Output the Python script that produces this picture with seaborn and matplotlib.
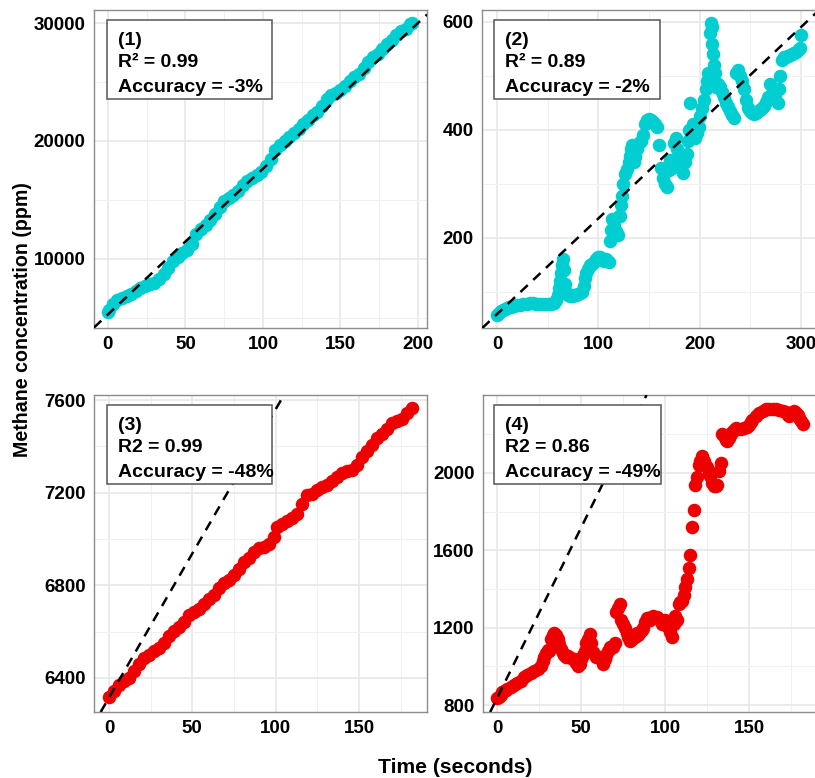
import matplotlib
matplotlib.use("Agg")
import matplotlib.pyplot as plt
from matplotlib.patches import Rectangle
import seaborn as sns

# ---- data ----
# panel 1 (cyan, steady rise)
t1 = [0, 1, 3, 6, 9, 12, 15, 18, 21, 24, 27, 30, 33, 36, 39, 42, 45, 48, 51, 54,
      57, 60, 63, 66, 69, 72, 75, 78, 81, 84, 87, 90, 93, 96, 99, 102, 105, 108,
      111, 114, 117, 120, 123, 126, 129, 132, 135, 138, 141, 144, 147, 150, 153,
      156, 159, 162, 165, 168, 171, 174, 177, 180, 183, 186, 189, 192, 195, 196]
c1 = [5500, 5700, 6200, 6500, 6700, 6900, 7050, 7250, 7500, 7700, 7850, 8000, 8300,
      8700, 9200, 9800, 10200, 10500, 10800, 11300, 12100, 12500, 12900, 13300,
      13800, 14400, 14900, 15200, 15400, 15800, 16300, 16600, 16900, 17100, 17400,
      17900, 18500, 19200, 19700, 20000, 20300, 20700, 21000, 21400, 21800, 22200,
      22500, 23000, 23600, 23900, 24100, 24300, 24700, 25100, 25400, 25700, 26200,
      26700, 27100, 27400, 27800, 28200, 28600, 29000, 29300, 29500, 29900, 30000]

# panel 2 (cyan, noisy)
t2 = [0, 2, 4, 6, 8, 10, 12, 14, 17, 20, 23, 26, 29, 32, 35, 38, 41, 44, 47, 50,
      53, 56, 58, 60, 61, 62, 63, 64, 65, 66, 67, 68, 70, 72, 74, 76, 78, 80, 82,
      84, 86, 87, 88, 90, 92, 94, 96, 98, 100, 102, 104, 106, 108, 110, 111, 112,
      113, 115, 117, 119, 120, 121, 122, 123, 124, 126, 128, 130, 131, 132, 133,
      134, 135, 136, 138, 140, 142, 144, 146, 148, 150, 152, 154, 156, 158, 160,
      162, 164, 166, 168, 170, 171, 173, 175, 177, 178, 180, 182, 184, 186, 188,
      189, 190, 191, 193, 195, 197, 199, 200, 202, 204, 206, 207, 208, 210, 211,
      212, 212.5, 213, 214, 215, 216, 218, 220, 222, 224, 226, 228, 230, 232, 234,
      236, 238, 240, 242, 244, 246, 248, 250, 252, 254, 256, 258, 260, 262, 264,
      266, 268, 270, 271, 273, 275, 277, 278, 279, 281, 283, 285, 287, 289, 291,
      293, 295, 297, 299, 300]
c2 = [58, 61, 64, 66, 68, 70, 71, 72, 73, 75, 76, 77, 78, 79, 79, 78, 78, 77, 77, 78,
      78, 80, 85, 95, 108, 120, 135, 150, 160, 140, 115, 100, 94, 92, 93, 94, 95, 96,
      97, 100, 110, 125, 135, 143, 150, 152, 155, 160, 165, 165, 160, 158, 160, 155,
      195, 215, 235, 225, 212, 205, 240, 240, 260, 278, 300, 318, 328, 340, 352, 365,
      372, 360, 340, 350, 365, 375, 380, 390, 410, 418, 420, 418, 415, 410, 405, 372,
      330, 310, 300, 295, 325, 345, 330, 375, 385, 365, 350, 330, 320, 340, 355,
      380, 400, 450, 410, 385, 395, 405, 425, 440, 456, 475, 490, 505, 580, 598,
      590, 560, 540, 520, 505, 480, 485, 480, 470, 460, 450, 443, 435, 428, 422,
      505, 510, 500, 490, 475, 455, 440, 435, 432, 430, 432, 435, 437, 440, 445,
      452, 460, 485, 465, 468, 460, 450, 475, 500, 530, 535, 535, 537, 538, 540,
      542, 545, 548, 552, 575]

# panel 3 (red, steady rise)
t3 = [0, 3, 6, 9, 12, 15, 18, 21, 24, 27, 30, 33, 36, 39, 42, 45, 48, 51, 54, 57,
      60, 63, 66, 69, 72, 75, 78, 81, 84, 87, 90, 93, 96, 99, 101, 104, 107, 110,
      113, 116, 119, 122, 125, 128, 131, 134, 137, 140, 143, 146, 149, 152, 155,
      158, 161, 164, 167, 170, 173, 176, 179, 182]
c3 = [6320, 6345, 6370, 6385, 6400, 6430, 6460, 6485, 6500, 6515, 6530, 6550, 6580,
      6605, 6620, 6640, 6670, 6685, 6700, 6720, 6740, 6760, 6790, 6810, 6825, 6845,
      6870, 6900, 6920, 6945, 6960, 6965, 6980, 7010, 7050, 7065, 7080, 7090, 7110,
      7150, 7190, 7195, 7210, 7225, 7235, 7250, 7270, 7285, 7295, 7300, 7320, 7355,
      7380, 7405, 7435, 7455, 7475, 7500, 7510, 7520, 7545, 7565]

# panel 4 (red, jump after ~110 s)
t4 = [0, 1, 2, 3, 4, 5, 6, 8, 10, 12, 14, 16, 18, 20, 22, 24, 26, 27, 28, 29, 30,
      31, 32, 33, 34, 35, 36, 37, 38, 39, 40, 41, 42, 44, 46, 47, 48, 49, 50, 51,
      52, 53, 54, 55, 56, 57, 58, 59, 61, 62, 63, 64, 65, 66, 67, 68, 69, 70, 71,
      72, 73, 74, 75, 76, 77, 78, 79, 80, 81, 82, 83, 84, 85, 86, 87, 88, 89, 90,
      91, 93, 95, 97, 98, 99, 100, 101, 102, 103, 104, 105, 106, 107, 108, 109,
      110, 111, 112, 113, 114, 115, 116, 117, 118, 119, 120, 121, 122, 123, 124,
      125, 126, 127, 128, 129, 130, 131, 132, 133, 134, 135, 136, 137, 138, 139,
      140, 141, 142, 143, 145, 147, 149, 150, 151, 152, 154, 156, 158, 160, 162,
      164, 166, 168, 170, 172, 173, 174, 175, 176, 177, 178, 179, 180, 181, 182]
c4 = [835, 840, 850, 865, 875, 880, 885, 895, 905, 915, 925, 945, 955, 965, 978, 985,
      1000, 1030, 1050, 1070, 1085, 1080, 1140, 1160, 1170, 1160, 1140, 1115, 1090,
      1070, 1060, 1050, 1055, 1045, 1040, 1020, 1000, 1010, 1040, 1060, 1080, 1120,
      1140, 1165, 1120, 1075, 1060, 1050, 1050, 1040, 1010, 1040, 1060, 1080, 1100,
      1095, 1100, 1120, 1280, 1300, 1320, 1240, 1220, 1200, 1170, 1150, 1130, 1140,
      1160, 1150, 1170, 1160, 1180, 1190, 1200, 1230, 1250, 1250, 1240, 1260, 1255,
      1240, 1220, 1230, 1240, 1210, 1200, 1180, 1150, 1220, 1260, 1240, 1320, 1335,
      1340, 1370, 1410, 1450, 1510, 1575, 1720, 1810, 1940, 1980, 2040, 2060, 2090,
      2060, 2040, 2030, 2000, 1985, 1950, 1930, 1930, 1940, 2010, 2050, 2200, 2190,
      2170, 2165, 2180, 2200, 2210, 2220, 2230, 2225, 2225, 2230, 2235, 2250, 2265,
      2275, 2295, 2310, 2320, 2330, 2333, 2333, 2330, 2325, 2320, 2315, 2300, 2295,
      2305, 2315, 2318, 2310, 2300, 2285, 2270, 2255]

# dashed reference line: intercept / slope per panel
ref_intercept = [5300, 59, 6315, 838]
ref_slope = [123.5, 1.77, 12.45, 17.6]

labels = ["(1)", "(2)", "(3)", "(4)"]
r2_text = ["R\u00b2 = 0.99", "R\u00b2 = 0.89", "R2 = 0.99", "R2 = 0.86"]
acc_text = ["Accuracy = -3%", "Accuracy = -2%", "Accuracy = -48%", "Accuracy = -49%"]

x_ticks = [[0, 50, 100, 150, 200], [0, 100, 200, 300], [0, 50, 100, 150], [0, 50, 100, 150]]
x_minor = [[25, 75, 125, 175], [50, 150, 250], [25, 75, 125, 175], [25, 75, 125, 175]]
y_ticks = [[10000, 20000, 30000], [200, 400, 600], [6400, 6800, 7200, 7600], [800, 1200, 1600, 2000]]
y_minor = [[5000, 15000, 25000], [100, 300, 500], [6600, 7000, 7400], [1000, 1400, 1800, 2200]]
x_lims = [(-9.0, 205.8), (-15, 315), (-9.0, 190.8), (-8.5, 191)]
y_lims = [(4150, 31100), (33, 622), (6253, 7622), (764, 2403)]

cyan = "#00CED1"
red = "#EE0000"

sns.set_style("white")
plt.rcParams["font.family"] = ["Liberation Sans", "DejaVu Sans"]
plt.rcParams["font.weight"] = "bold"
plt.rcParams["text.color"] = "black"

fig = plt.figure(figsize=(8.15, 7.78), dpi=100)

# axes placements (left, bottom, width, height) in figure fraction
rects = [[0.1153, 0.5784, 0.4086, 0.4087],
         [0.5914, 0.5784, 0.4098, 0.4087],
         [0.1153, 0.0848, 0.4086, 0.4075],
         [0.5926, 0.0848, 0.4110, 0.4075]]
box_x0 = [0.039, 0.036, 0.039, 0.033]

series = [(t1, c1, cyan), (t2, c2, cyan), (t3, c3, red), (t4, c4, red)]

for i, (t, c, col) in enumerate(series):
    ax = fig.add_axes(rects[i])
    sns.scatterplot(x=t, y=c, ax=ax, color=col, s=95, linewidth=0, zorder=2)
    ax.axline((0, ref_intercept[i]), slope=ref_slope[i], color="black",
              linestyle=(0, (4, 3)), linewidth=1.8, zorder=3)

    ax.set_xlim(*x_lims[i])
    ax.set_ylim(*y_lims[i])
    ax.set_xticks(x_ticks[i])
    ax.set_xticks(x_minor[i], minor=True)
    ax.set_yticks(y_ticks[i])
    ax.set_yticks(y_minor[i], minor=True)
    ax.grid(which="major", color="#e6e6e6", linewidth=1.1)
    ax.grid(which="minor", color="#f0f0f0", linewidth=0.8)
    ax.set_axisbelow(True)
    ax.tick_params(which="major", length=4, width=1, color="#555555",
                   labelsize=13.5, pad=2, labelcolor="black")
    ax.tick_params(which="minor", length=0)
    for sp in ax.spines.values():
        sp.set_color("#8c8c8c")
        sp.set_linewidth(1.0)
    ax.set_xlabel("")
    ax.set_ylabel("")

    # annotation box
    ax.add_patch(Rectangle((box_x0[i], 0.72), 0.497, 0.25, transform=ax.transAxes,
                           facecolor="white", edgecolor="#555555", linewidth=1.1,
                           zorder=4))
    tx = box_x0[i] + 0.034
    ax.text(tx, 0.905, labels[i], transform=ax.transAxes, fontsize=14,
            va="center", ha="left", zorder=5)
    ax.text(tx, 0.834, r2_text[i], transform=ax.transAxes, fontsize=14,
            va="center", ha="left", zorder=5)
    ax.text(tx, 0.757, acc_text[i], transform=ax.transAxes, fontsize=14,
            va="center", ha="left", zorder=5)

fig.text(0.028, 0.589, "Methane concentration (ppm)", rotation=90, fontsize=14.1,
         ha="center", va="center")
fig.text(0.558, 0.013, "Time (seconds)", fontsize=15.2, ha="center", va="center")

plt.savefig("out.png", dpi=100)
